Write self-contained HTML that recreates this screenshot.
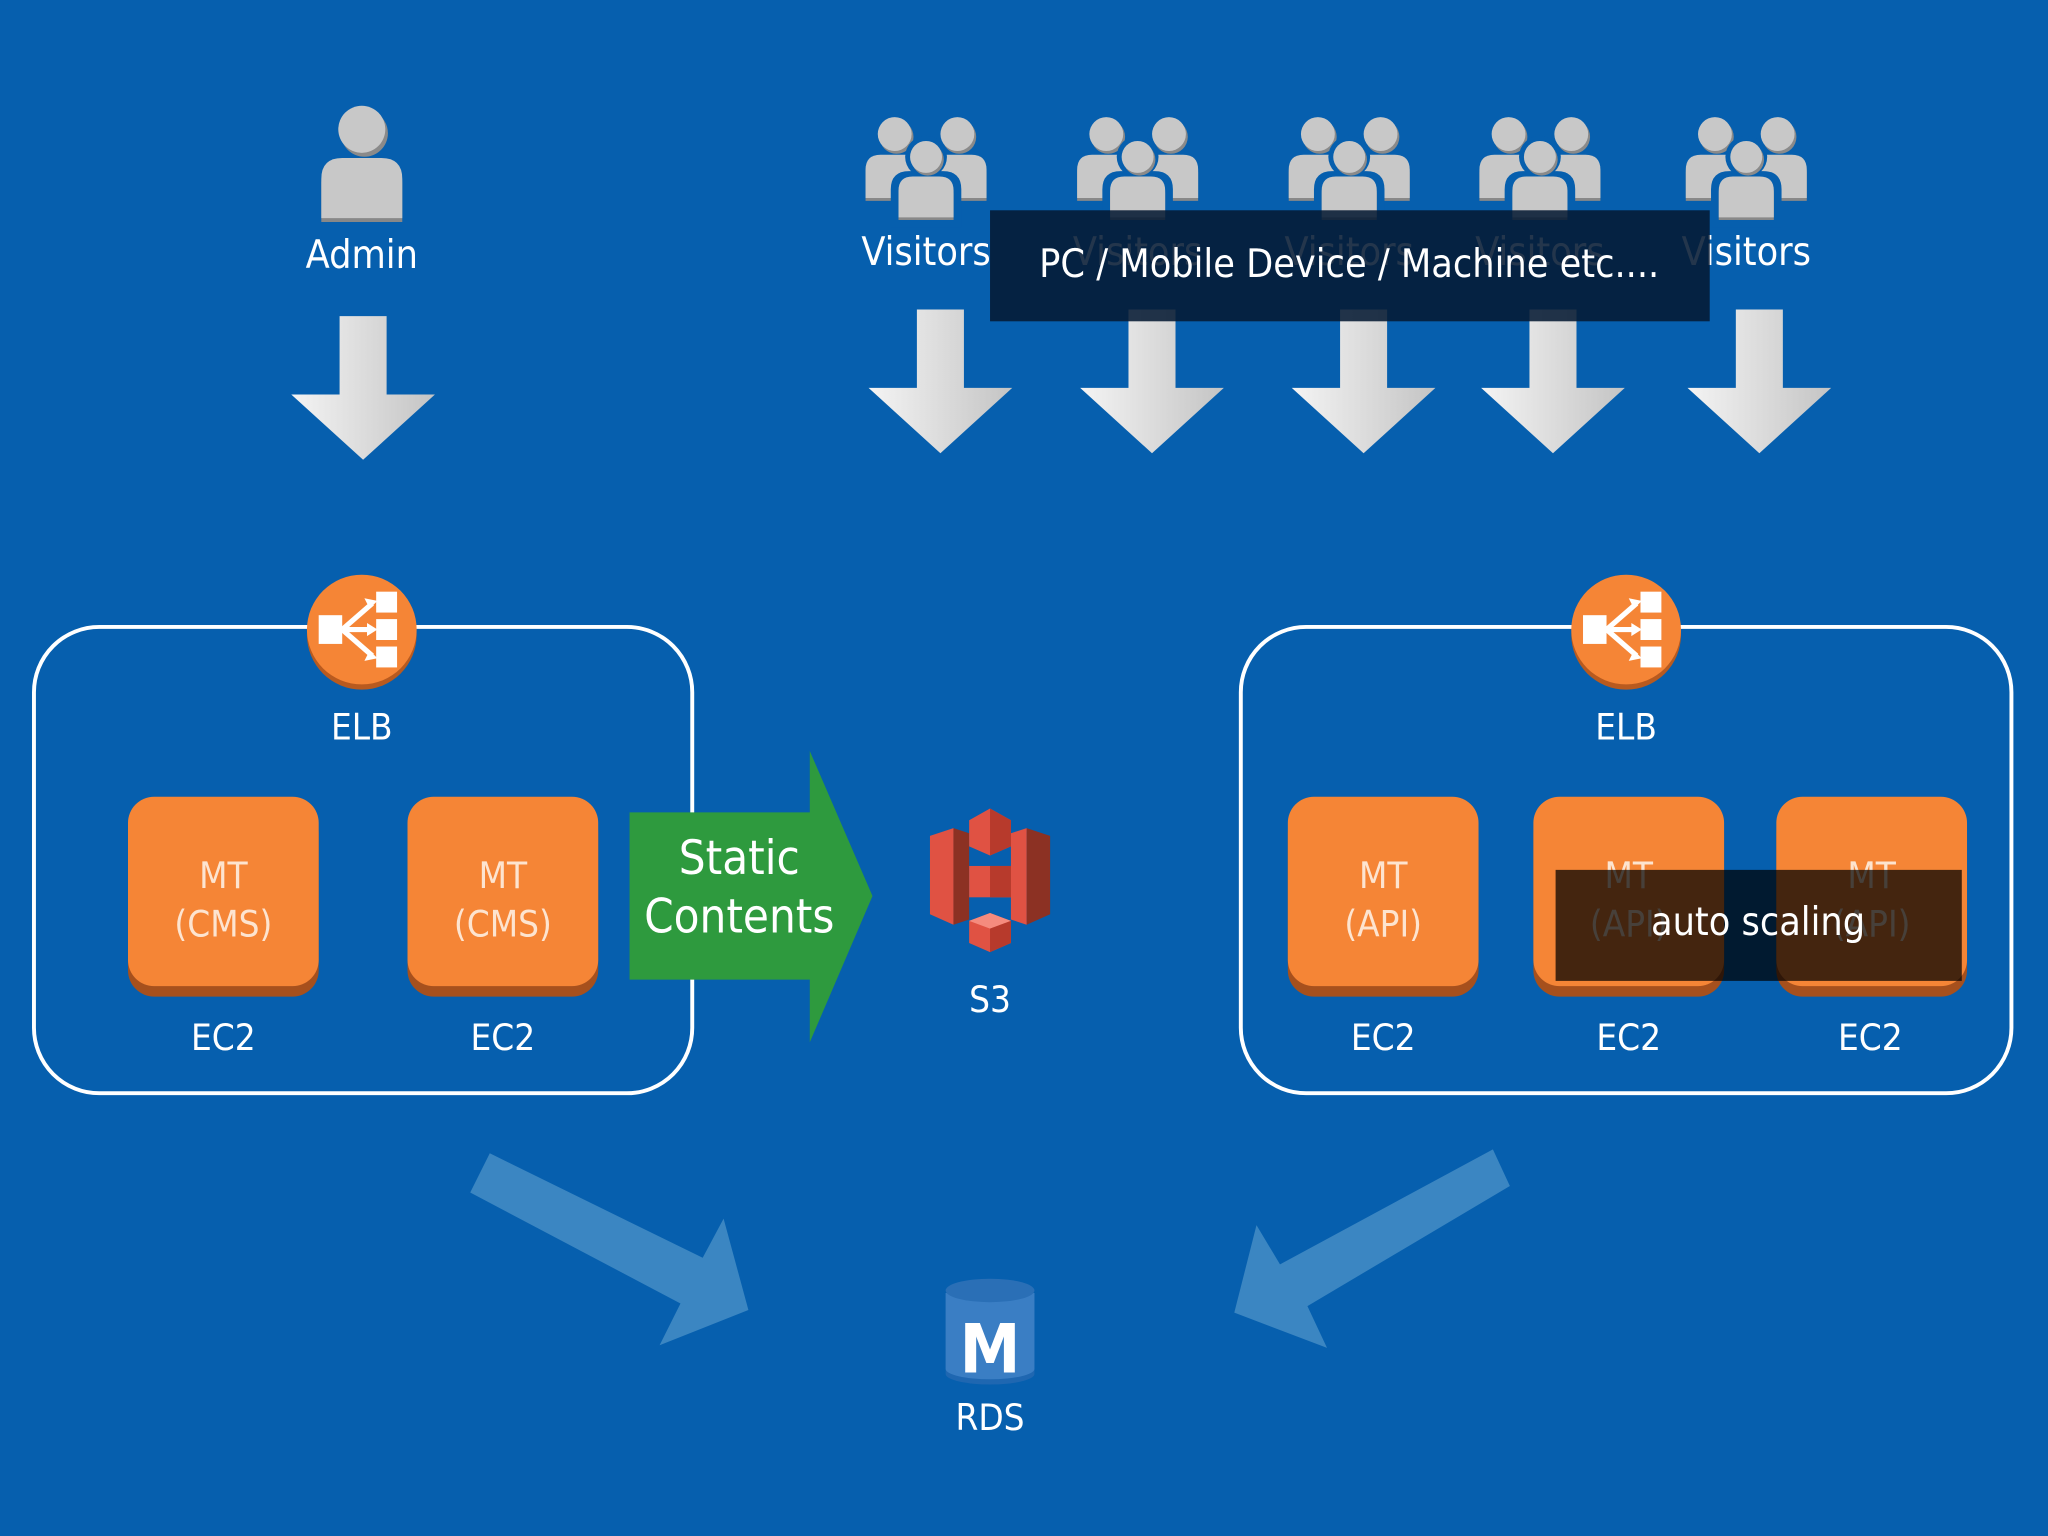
<!DOCTYPE html>
<html><head><meta charset="utf-8"><style>
html,body{margin:0;padding:0;background:#065fae;}
svg{display:block}
text{font-family:"DejaVu Sans Condensed","Liberation Sans",sans-serif;}
</style></head><body>
<svg width="2048" height="1536" viewBox="0 0 1568 1176" xmlns="http://www.w3.org/2000/svg">
<defs>
<linearGradient id="ag" x1="0" y1="0" x2="1" y2="0">
<stop offset="0" stop-color="#f4f4f4"/><stop offset="0.5" stop-color="#dcdcdc"/><stop offset="1" stop-color="#c4c4c4"/>
</linearGradient>
<g id="dn">
<path d="M-18,0 H18 V60 H55 L0,110 L-55,60 H-18 Z" fill="url(#ag)"/>
</g>
<g id="person">
<circle cx="0" cy="-38" r="18" fill="#8a8a8a" transform="translate(2,3)"/>
<circle cx="0" cy="-38" r="18" fill="#c8c8c8"/>
<path d="M-31,30 V0 Q-31,-16 -15,-16 H15 Q31,-16 31,0 V30 Z" fill="#888" transform="translate(0,3)"/>
<path d="M-31,30 V0 Q-31,-16 -15,-16 H15 Q31,-16 31,0 V30 Z" fill="#c8c8c8"/>
</g>
<g id="group">
<g transform="translate(-24,-2) scale(0.72)"><use href="#person"/></g>
<g transform="translate(24,-2) scale(0.72)"><use href="#person"/></g>
<circle cx="0" cy="-12" r="16" fill="#065fae"/>
<path d="M-27,46 V17 Q-27,3 -13,3 H13 Q27,3 27,17 V46 Z" fill="#065fae" transform="translate(0,-4)"/>
<g transform="translate(0,14) scale(0.68)"><use href="#person"/></g>
</g>
<g id="elb">
<circle cx="0" cy="4" r="42" fill="#b85a1f"/>
<circle cx="0" cy="0" r="42" fill="#f58536"/>
<rect x="-33" y="-11" width="18" height="22" fill="#fff"/>
<rect x="11" y="-29" width="16" height="16" fill="#fff"/>
<rect x="11" y="-8" width="16" height="16" fill="#fff"/>
<rect x="11" y="13" width="16" height="16" fill="#fff"/>
<path d="M-15,0 L8,-20 M-15,0 L8,0 M-15,0 L8,20" stroke="#fff" stroke-width="4"/>
<path d="M12,-22 L2,-24 L6,-16Z M12,0 L4,-5 L4,5Z M12,22 L2,24 L6,16Z" fill="#fff"/>
</g>
<g id="mt">
<rect x="0" y="8" width="146" height="145" rx="20" fill="#a6501d"/>
<rect x="0" y="0" width="146" height="145" rx="20" fill="#f58536"/>
</g>
</defs>

<!-- Admin -->
<g transform="translate(277,137)"><use href="#person"/></g>
<text x="277" y="205" font-size="30" fill="#fff" text-anchor="middle">Admin</text>
<g transform="translate(278,242)"><use href="#dn"/></g>

<!-- Visitors -->
<g transform="translate(709,132)"><use href="#group"/></g>
<g transform="translate(871,132)"><use href="#group"/></g>
<g transform="translate(1033,132)"><use href="#group"/></g>
<g transform="translate(1179,132)"><use href="#group"/></g>
<g transform="translate(1337,132)"><use href="#group"/></g>
<g font-size="30" fill="#fff" text-anchor="middle">
<text x="709" y="203">Visitors</text><text x="871" y="203">Visitors</text><text x="1033" y="203">Visitors</text><text x="1179" y="203">Visitors</text><text x="1337" y="203">Visitors</text>
</g>
<g transform="translate(720,237)"><use href="#dn"/></g>
<g transform="translate(882,237)"><use href="#dn"/></g>
<g transform="translate(1044,237)"><use href="#dn"/></g>
<g transform="translate(1189,237)"><use href="#dn"/></g>
<g transform="translate(1347,237)"><use href="#dn"/></g>
<rect x="758" y="161" width="551" height="85" fill="#061a33" fill-opacity="0.88"/>
<text x="1033" y="212" font-size="30" fill="#fff" text-anchor="middle">PC / Mobile Device / Machine etc....</text>

<!-- Left box -->
<rect x="26" y="480" width="504" height="357" rx="50" fill="none" stroke="#fff" stroke-width="3"/>
<g transform="translate(277,482)"><use href="#elb"/></g>
<text x="277" y="566" font-size="28" fill="#fff" text-anchor="middle">ELB</text>
<g transform="translate(98,610)"><use href="#mt"/></g>
<g transform="translate(312,610)"><use href="#mt"/></g>
<g font-size="28" fill="#fde4d0" text-anchor="middle">
<text x="171" y="680">MT</text><text x="171" y="717">(CMS)</text>
<text x="385" y="680">MT</text><text x="385" y="717">(CMS)</text>
</g>
<g font-size="28" fill="#fff" text-anchor="middle">
<text x="171" y="804">EC2</text><text x="385" y="804">EC2</text>
</g>

<!-- Green arrow -->
<path d="M482,622 H620 V575 L668,686 L620,798 V750 H482 Z" fill="#2e9a3e"/>
<text x="566" y="669" font-size="36" fill="#fff" text-anchor="middle">Static</text>
<text x="566" y="714" font-size="36" fill="#fff" text-anchor="middle">Contents</text>

<!-- S3 -->
<g>
<path d="M712,640 L730,634 L730,708 L712,700Z" fill="#e05243"/>
<path d="M730,634 L742,638 L742,704 L730,708Z" fill="#8c3123"/>
<path d="M804,640 L786,634 L786,708 L804,700Z" fill="#8c3123"/>
<path d="M786,634 L774,638 L774,704 L786,708Z" fill="#e05243"/>
<path d="M742,628 L758,619 L774,628 L774,648 L758,655 L742,648Z" fill="#e05243"/>
<path d="M758,619 L774,628 L774,648 L758,655Z" fill="#b73a2c"/>
<rect x="742" y="663" width="32" height="24" fill="#e05243"/>
<rect x="758" y="663" width="16" height="24" fill="#b73a2c"/>
<path d="M742,705 L758,699 L774,705 L774,722 L758,729 L742,722Z" fill="#e05243"/>
<path d="M742,705 L758,699 L774,705 L758,711Z" fill="#f58b7e"/>
<path d="M758,711 L774,705 L774,722 L758,729Z" fill="#b73a2c"/>
</g>
<text x="758" y="775" font-size="28" fill="#fff" text-anchor="middle">S3</text>

<!-- Right box -->
<rect x="950" y="480" width="590" height="357" rx="50" fill="none" stroke="#fff" stroke-width="3"/>
<g transform="translate(1245,482)"><use href="#elb"/></g>
<text x="1245" y="566" font-size="28" fill="#fff" text-anchor="middle">ELB</text>
<g transform="translate(986,610)"><use href="#mt"/></g>
<g transform="translate(1174,610)"><use href="#mt"/></g>
<g transform="translate(1360,610)"><use href="#mt"/></g>
<g font-size="28" fill="#fde4d0" text-anchor="middle">
<text x="1059" y="680">MT</text><text x="1059" y="717">(API)</text>
<text x="1247" y="680">MT</text><text x="1247" y="717">(API)</text>
<text x="1433" y="680">MT</text><text x="1433" y="717">(API)</text>
</g>
<g font-size="28" fill="#fff" text-anchor="middle">
<text x="1059" y="804">EC2</text><text x="1247" y="804">EC2</text><text x="1432" y="804">EC2</text>
</g>
<rect x="1191" y="666" width="311" height="85" fill="#000" fill-opacity="0.72"/>
<text x="1346" y="716" font-size="30" fill="#fff" text-anchor="middle">auto scaling</text>

<!-- Diagonal arrows -->
<path d="M375,883 L360,913 L521,998 L505,1030 L573,1003 L554,933 L538,963 Z" fill="#3b86c2"/>
<path d="M1143,880 L1156,908 L1001,1000 L1016,1032 L945,1005 L962,938 L980,968 Z" fill="#3b86c2"/>

<!-- RDS -->
<path d="M724,990 V1052 A34,8 0 0 0 792,1052 V990 Z" fill="#1f67b1"/>
<path d="M724,990 V1048 A34,8 0 0 0 792,1048 V990 Z" fill="#3a7ec4"/>
<ellipse cx="758" cy="988" rx="34" ry="9" fill="#2a6fb6"/>
<text x="758" y="1051" font-size="52" font-weight="bold" fill="#fff" text-anchor="middle" font-family="Liberation Sans, sans-serif">M</text>
<text x="758" y="1095" font-size="28" fill="#fff" text-anchor="middle">RDS</text>
</svg>
</body></html>
